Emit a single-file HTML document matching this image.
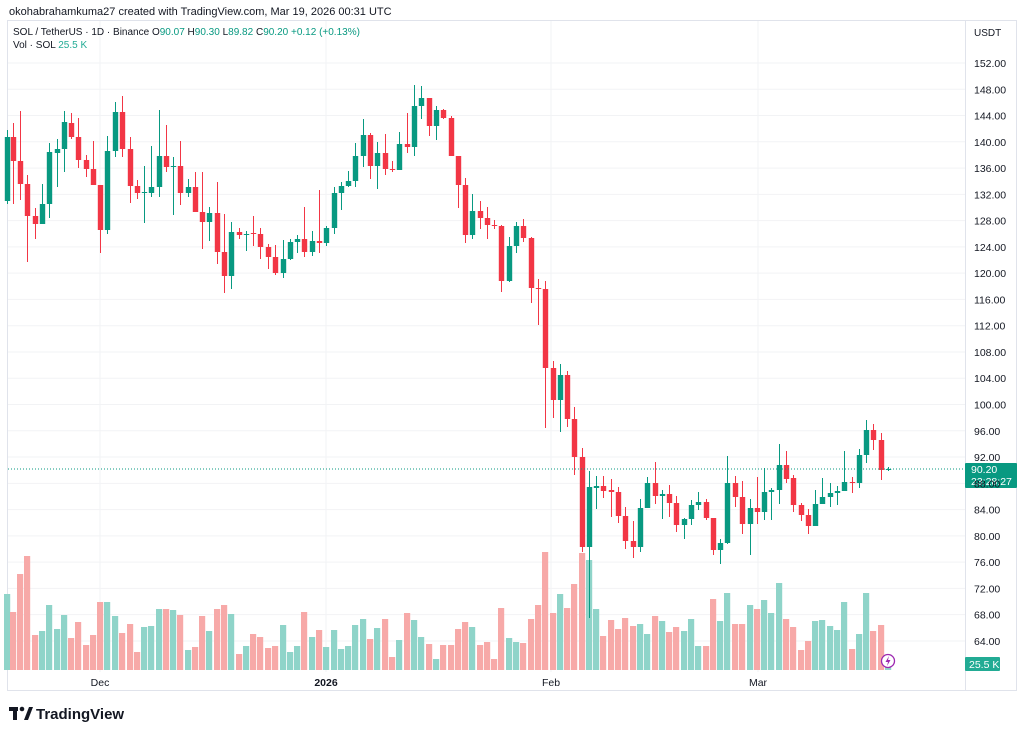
<!DOCTYPE html>
<html><head><meta charset="utf-8">
<style>
body{margin:0;background:#fff;width:1024px;height:735px;overflow:hidden;font-family:"Liberation Sans",sans-serif;}
</style></head><body>
<svg id="s" width="1024" height="735" xmlns="http://www.w3.org/2000/svg" style="position:absolute;left:0;top:0">
<text x="9" y="15" font-size="11" fill="#131722">okohabrahamkuma27 created with TradingView.com, Mar 19, 2026 00:31 UTC</text>
<rect x="7.5" y="20.5" width="1009" height="670" fill="none" stroke="#e0e3eb"/>
<line x1="965.5" y1="20" x2="965.5" y2="690" stroke="#e0e3eb"/>
<g id="grid"></g>
<g id="vol"></g>
<g id="cdl"></g>
<text x="13" y="35" font-size="10" fill="#131722">SOL / TetherUS · 1D · Binance <tspan fill="#131722">O</tspan><tspan fill="#089981">90.07</tspan> <tspan fill="#131722"> H</tspan><tspan fill="#089981">90.30</tspan><tspan fill="#131722">  L</tspan><tspan fill="#089981">89.82</tspan><tspan fill="#131722">  C</tspan><tspan fill="#089981">90.20  +0.12 (+0.13%)</tspan></text>
<text x="13" y="48" font-size="10" fill="#131722">Vol · SOL <tspan fill="#22ab94">  25.5 K</tspan></text>
<text x="974" y="36" font-size="10" fill="#131722">USDT</text>
<line x1="8" y1="469" x2="965" y2="469" stroke="#089981" stroke-dasharray="1,2"/>
<rect x="965" y="463" width="52" height="25" fill="#089981" rx="1"/>
<text x="971" y="473" font-size="10.5" fill="#fff">90.20</text>
<text x="971" y="485" font-size="10.5" fill="#fff">23:28:27</text>
<rect x="965" y="657" width="35" height="14" fill="#22ab94" rx="1"/>
<text x="969" y="668" font-size="10.5" fill="#fff">25.5 K</text>
<circle cx="888" cy="661" r="6.5" fill="#fff" stroke="#9c27b0" stroke-width="1.3"/>
<path d="M889 656 L885.5 662 L888 662 L887 666 L890.5 660 L888 660 Z" fill="#9c27b0"/>
<text x="100" y="686" font-size="10.5" fill="#131722" text-anchor="middle">Dec</text>
<text x="326" y="686" font-size="10.5" fill="#131722" text-anchor="middle" font-weight="bold">2026</text>
<text x="551" y="686" font-size="10.5" fill="#131722" text-anchor="middle">Feb</text>
<text x="758" y="686" font-size="10.5" fill="#131722" text-anchor="middle">Mar</text>
<g fill="#131722">
<rect x="9" y="707" width="9" height="4"/><rect x="13" y="707" width="4" height="13"/>
<circle cx="22" cy="709" r="2.3"/><path d="M24 720 L29 707 L33 707 L28 720 Z"/>
</g>
<text x="36" y="719" font-size="15" font-weight="bold" fill="#131722">TradingView</text>
</svg>
<script>
var NS="http://www.w3.org/2000/svg";
function el(p,t,a){var e=document.createElementNS(NS,t);for(var k in a)e.setAttribute(k,a[k]);p.appendChild(e);return e;}
var g=document.getElementById('grid'),s=document.getElementById('s');
for(var k=0;k<=22;k++){var y=63+k*26.27;el(g,'line',{x1:8,x2:965,y1:y,y2:y,stroke:'#f2f3f5'});
var t=el(s,'text',{x:974,y:y+4,'font-size':10.5,fill:'#131722'});t.textContent=(152-4*k).toFixed(2);}
[100,326,551,758].forEach(function(x){el(g,'line',{x1:x,x2:x,y1:21,y2:672,stroke:'#f2f3f5'});});
var C=[[7,137,201,130,204,1],[13,137,161,123,204,0],[20,161,184,111,200,0],[27,184,216,175,262,0],[35,216,224,208,239,0],[42,204,224,184,224,1],[49,152,204,143,218,1],[57,149,153,139,187,1],[64,122,149,111,172,1],[71,123,137,113,139,0],[78,137,160,118,168,0],[86,160,169,155,177,0],[93,169,185,141,185,0],[100,185,230,185,253,0],[107,151,230,136,234,1],[115,112,151,102,157,1],[122,112,149,96,157,0],[130,149,186,137,203,0],[137,186,193,180,199,0],[144,192,193,166,223,1],[151,187,193,146,197,1],[159,156,187,110,197,1],[166,156,167,125,172,0],[173,166,167,157,215,1],[180,166,193,141,205,0],[188,187,193,179,197,1],[195,187,212,172,212,0],[202,212,222,172,249,0],[209,213,222,207,241,1],[217,213,252,182,264,0],[224,252,276,214,293,0],[231,232,276,222,289,1],[239,232,235,228,239,0],[246,234,235,231,251,1],[253,233,234,216,246,0],[260,234,247,228,259,0],[268,247,257,244,269,0],[275,257,273,245,275,0],[283,259,273,240,278,1],[290,242,259,239,260,1],[297,239,242,235,253,1],[304,239,252,207,257,0],[312,241,252,231,256,1],[319,241,243,190,253,0],[326,228,243,226,246,1],[334,193,228,187,234,1],
[341,186,193,182,210,1],[348,181,186,171,187,1],[355,156,181,143,187,1],[363,135,156,119,167,1],[370,135,166,133,179,0],[377,153,166,142,189,1],[385,153,169,134,175,0],[392,169,170,161,172,0],[399,144,170,132,170,1],[407,144,147,113,153,0],[414,106,147,85,156,1],[421,98,106,86,119,1],[429,98,126,98,136,0],[436,110,126,106,140,1],[443,110,118,109,119,0],[451,118,156,116,156,0],[458,156,185,156,208,0],[465,185,235,178,243,0],[472,211,235,194,239,1],[480,211,218,201,229,0],[487,218,225,207,239,0],[494,225,226,220,229,0],[501,226,281,225,292,0],[509,246,281,237,282,1],[516,226,246,222,253,1],[523,226,238,219,242,0],[531,238,288,237,303,0],[538,288,289,279,325,0],[545,289,368,281,428,0],
[553,368,400,361,418,0],[560,375,400,364,432,1],[567,375,419,371,427,0],[574,419,457,407,475,0],[582,457,547,448,552,0],[589,487,547,471,618,1],[596,486,488,476,509,1],[603,486,491,476,498,0],[611,490,492,479,517,0],[618,492,516,487,523,0],[625,516,541,507,549,0],[633,541,547,521,558,0],[640,508,547,499,552,1],[647,483,508,477,508,1],[655,483,496,462,504,0],[662,494,496,490,519,1],[669,494,503,485,517,0],[676,503,525,496,532,0],[684,519,525,518,539,1],[691,505,519,500,525,1],[698,502,505,492,510,1],[706,502,518,499,520,0],[713,518,550,518,555,0],[720,543,550,539,564,1],[727,483,543,456,544,1],[735,483,497,476,507,0],[742,497,524,481,534,0],[750,508,524,499,555,1],[757,508,512,477,524,0],[764,492,512,468,520,1],[771,490,492,488,520,1],[779,465,490,444,504,1],[786,465,479,451,483,0],[793,478,505,475,512,0],[801,505,515,503,521,0],[808,515,526,509,534,0],[815,504,526,490,526,1],[822,497,504,478,504,1],[830,493,497,483,507,1],[837,491,493,486,505,1],[844,482,491,451,491,1],[852,482,483,477,493,0],[859,455,483,449,488,1],[866,430,455,420,463,1],[873,430,440,424,450,0],[881,440,470,433,480,0],[888,469,470,467,471,1]];
var V=[594,612,574,556,635,631,605,629,615,638,622,645,635,602,602,616,633,624,652,627,626,609,609,610,615,650,647,616,631,609,605,614,654,646,634,637,648,646,625,652,646,612,637,630,647,630,649,646,625,619,639,628,619,657,640,613,620,637,644,659,645,645,
629,622,627,645,642,659,608,638,642,643,619,605,552,613,594,608,584,553,560,609,636,620,629,618,626,624,634,616,621,632,627,631,619,646,646,599,621,593,624,624,605,609,600,613,583,619,627,650,641,621,620,626,630,602,649,634,593,631,625,667];
var vg=document.getElementById('vol'),cg=document.getElementById('cdl');
C.forEach(function(c,i){var v=V[i]||667;
el(vg,'rect',{x:c[0]-3,y:v,width:6.2,height:670-v,fill:c[5]?'#8fd4c9':'#f7a9a8'});});
C.forEach(function(c){var col=c[5]?'#089981':'#f23645';
el(cg,'line',{x1:c[0]+0.5,x2:c[0]+0.5,y1:c[3],y2:c[4],stroke:col,'stroke-width':1});
el(cg,'rect',{x:c[0]-2.2,y:c[1],width:5.4,height:Math.max(1,c[2]-c[1]),fill:col});});
</script>
</body></html>
